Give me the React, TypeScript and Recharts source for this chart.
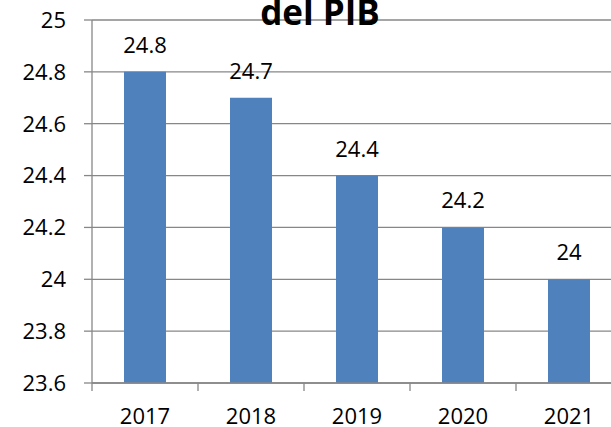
import { BarChart, Bar, XAxis, YAxis, CartesianGrid, LabelList } from 'recharts';

const years = ['2017', '2018', '2019', '2020', '2021'];
const values = [24.8, 24.7, 24.4, 24.2, 24];
const yTicks = [23.6, 23.8, 24, 24.2, 24.4, 24.6, 24.8, 25];
const title = 'del PIB';

const chartData = years.map((year, i) => ({ year, value: values[i] }));

const FONT = '"Open Sans", Calibri, sans-serif';
const GRAY = '#878787';
const BLUE = '#4F81BD';
const TICK_LEN = 8;
const TICK_GAP = 17;

// Category label plus Excel-style tick marks on the category boundaries
function YearTick(props: any) {
  const { x, y, payload, index } = props;
  const half = payload.offset || 0;
  const axisY = y - TICK_LEN - TICK_GAP;
  const isLast = index === years.length - 1;
  return (
    <g>
      <line x1={x - half} y1={axisY} x2={x - half} y2={axisY + TICK_LEN} stroke={GRAY} strokeWidth={1.3} />
      {isLast && (
        <line x1={x + half} y1={axisY} x2={x + half} y2={axisY + TICK_LEN} stroke={GRAY} strokeWidth={1.3} />
      )}
      <text x={x} y={y} dy="0.71em" textAnchor="middle" fill="#000" fontSize={22} fontFamily={FONT}>
        {payload.value}
      </text>
    </g>
  );
}

export default function App() {
  return (
    <div style={{ position: 'absolute', left: 0, top: 0, width: 611, height: 427, overflow: 'hidden', background: '#fff' }}>
      <BarChart
        width={622}
        height={427}
        data={chartData}
        margin={{ top: 20, right: 0, left: 0, bottom: 0 }}
        style={{ fontFamily: FONT }}
      >
        <CartesianGrid vertical={false} stroke={GRAY} strokeWidth={1.3} />
        <XAxis
          dataKey="year"
          axisLine={{ stroke: GRAY, strokeWidth: 1.3 }}
          tickLine={false}
          tickSize={TICK_LEN}
          tickMargin={TICK_GAP}
          height={44}
          interval={0}
          tick={<YearTick />}
        />
        <YAxis
          domain={[23.6, 25]}
          ticks={yTicks}
          width={92}
          tickSize={8}
          tickMargin={18}
          interval={0}
          axisLine={{ stroke: GRAY, strokeWidth: 1.3 }}
          tickLine={{ stroke: GRAY, strokeWidth: 1.3 }}
          tick={{ fill: '#000', fontSize: 22, fontFamily: FONT }}
        />
        <Bar dataKey="value" fill={BLUE} barSize={42} isAnimationActive={false}>
          <LabelList dataKey="value" position="top" offset={19} fill="#000" fontSize={22} fontFamily={FONT} />
        </Bar>
      </BarChart>
      <svg width={611} height={40} style={{ position: 'absolute', left: 0, top: 0, pointerEvents: 'none' }}>
        <text x={320} y={25} textAnchor="middle" fontFamily={FONT} fontWeight="bold" fontSize={35} fill="#000">
          {title}
        </text>
      </svg>
    </div>
  );
}
